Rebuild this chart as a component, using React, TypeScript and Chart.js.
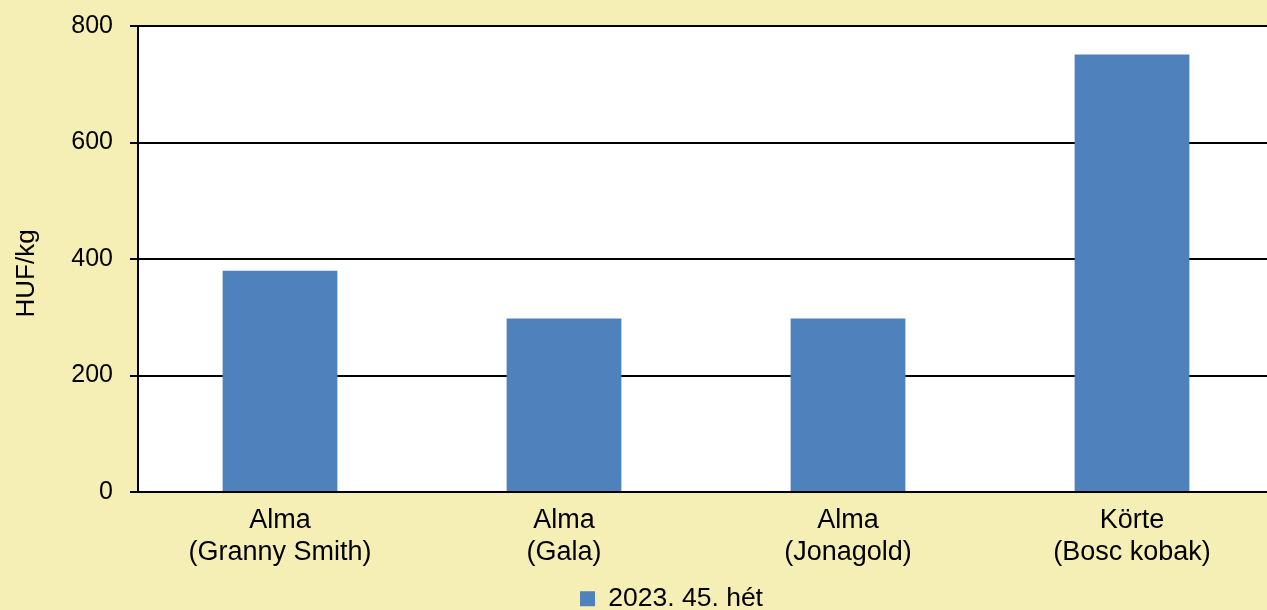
import { useEffect, useRef } from "react";
import { Chart, registerables } from "chart.js";
Chart.register(...registerables);

const categories: string[][] = [
  ["Alma", "(Granny Smith)"],
  ["Alma", "(Gala)"],
  ["Alma", "(Jonagold)"],
  ["Körte", "(Bosc kobak)"],
];
const seriesLabel = "2023. 45. hét";
const values = [380, 298, 298, 751];
const yMin = 0;
const yMax = 800;
const yStep = 200;
const yTitle = "HUF/kg";

export default function App() {
  const ref = useRef<HTMLCanvasElement>(null);
  useEffect(() => {
    document.body.style.margin = "0";
    document.body.style.overflow = "hidden";
    const fam = "'Liberation Sans', Arial, sans-serif";
    const plotBg = {
      id: "plotBg",
      beforeDraw(chart: any) {
        const { ctx, chartArea: a } = chart;
        ctx.save();
        ctx.fillStyle = "#ffffff";
        ctx.fillRect(a.left, a.top, a.right - a.left, a.bottom - a.top);
        ctx.restore();
      },
    };
    const chart = new Chart(ref.current as HTMLCanvasElement, {
      type: "bar",
      data: {
        labels: categories,
        datasets: [
          {
            label: seriesLabel,
            data: values,
            backgroundColor: "#4F81BD",
            borderWidth: 0,
            barPercentage: 0.404,
            categoryPercentage: 1,
          },
        ],
      },
      options: {
        animation: false,
        responsive: false,
        devicePixelRatio: 1,
        layout: { padding: { top: 26, right: 0, left: 69, bottom: 0 } },
        plugins: {
          legend: {
            position: "bottom",
            labels: { boxWidth: 15, boxHeight: 15, padding: 0, color: "#000", font: { family: fam, size: 26.5 } },
          },
          tooltip: { enabled: false },
        },
        scales: {
          x: {
            grid: { display: false, drawTicks: false },
            border: { color: "#000", width: 2 },
            ticks: { color: "#000", font: { family: fam, size: 27 }, padding: 12, maxRotation: 0, autoSkip: false },
            afterFit(s: any) {
              s.height = 93.5;
              s.paddingLeft = 0;
              s.paddingRight = 0;
            },
          },
          y: {
            min: yMin,
            max: yMax,
            ticks: { stepSize: yStep, padding: 17, color: "#000", font: { family: fam, size: 25 } },
            grid: { color: "#000", lineWidth: 2, tickLength: 8, tickColor: "#000" },
            border: { color: "#000", width: 2 },
            title: {
              display: true,
              text: yTitle + "    ",
              color: "#000",
              font: { family: fam, size: 26 },
              padding: { top: -58, bottom: 0 },
            },
            afterFit(s: any) {
              s.width = 69;
              s.paddingTop = 0;
              s.paddingBottom = 0;
            },
          },
        },
      },
      plugins: [plotBg],
    });
    return () => chart.destroy();
  }, []);
  return (
    <div style={{ width: 1267, height: 610, overflow: "hidden", background: "#F5EFB5" }}>
      <canvas ref={ref} width={1274} height={622} style={{ display: "block" }} />
    </div>
  );
}
